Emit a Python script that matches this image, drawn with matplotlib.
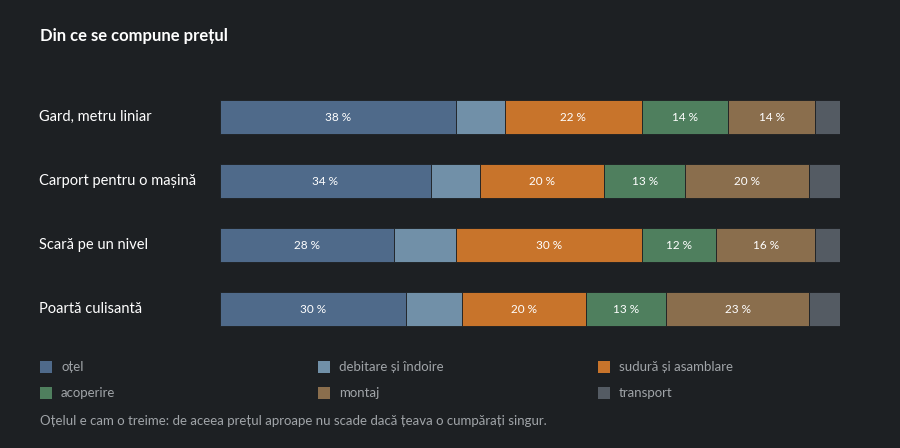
import matplotlib
matplotlib.use("Agg")
import matplotlib.pyplot as plt
from matplotlib.patches import Rectangle

plt.rcParams['font.family'] = ['Lato', 'DejaVu Sans']

categories = ["Gard, metru liniar", "Carport pentru o mașină", "Scară pe un nivel", "Poartă culisantă"]
series_names = ["oțel", "debitare și îndoire", "sudură și asamblare", "acoperire", "montaj", "transport"]
otel = [38, 34, 28, 30]
debitare = [8, 8, 10, 9]
sudura = [22, 20, 30, 20]
acoperire = [14, 13, 12, 13]
montaj = [14, 20, 16, 23]
transport = [4, 5, 4, 5]
series = [otel, debitare, sudura, acoperire, montaj, transport]
colors = ["#4f6a8a", "#7190a8", "#c8742b", "#4f7f5e", "#8a6e4d", "#545b63"]
show_label = [True, False, True, True, True, False]

W, H = 900, 448
bg = "#1d2023"
fig = plt.figure(figsize=(9, 4.48), dpi=100, facecolor=bg)
ax = fig.add_axes([220/W, (H-341)/H, 620/W, 256/H])
ax.set_facecolor(bg)
ax.set_xlim(0, 100)
ax.set_ylim(3.5, -0.5)
ax.axis("off")

y = list(range(len(categories)))
left = [0]*len(categories)
for vals, col, lab in zip(series, colors, show_label):
    ax.barh(y, vals, left=left, height=0.53, color=col, edgecolor=bg, linewidth=0.6)
    if lab:
        for i, v in enumerate(vals):
            ax.text(left[i] + v/2, i, f"{v} %", ha="center", va="center", color="white", fontsize=8.5)
    left = [l + v for l, v in zip(left, vals)]

for i, c in enumerate(categories):
    ax.text(-181/620*100, i, c, ha="left", va="center", color="white", fontsize=10.5)

fig.text(40/W, 1-36/H, "Din ce se compune prețul", color="white", fontsize=12, fontweight="bold", va="center")

cols_x = [40, 318, 598]
rows_y = [367, 393]
for k, (name, col) in enumerate(zip(series_names, colors)):
    cx = cols_x[k % 3]; cy = rows_y[k // 3]
    fig.patches.append(Rectangle((cx/W, 1-(cy+6)/H), 12/W, 12/H, transform=fig.transFigure,
                                 facecolor=col, edgecolor="none"))
    fig.text((cx+21)/W, 1-cy/H, name, color="#a0a4a8", fontsize=9.5, va="center")

fig.text(40/W, 1-421/H, "Oțelul e cam o treime: de aceea prețul aproape nu scade dacă țeava o cumpărați singur.",
         color="#a0a4a8", fontsize=9.5, va="center")

fig.savefig("out.png", dpi=100, facecolor=bg)
